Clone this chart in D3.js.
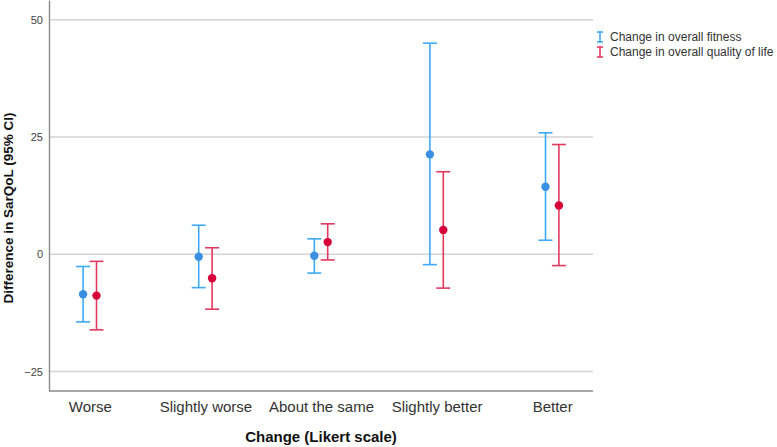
<!DOCTYPE html>
<html><head><meta charset="utf-8">
<script src="https://cdn.jsdelivr.net/npm/d3@7"></script>
<style>body{margin:0;background:#fff;} svg{display:block;font-family:"Liberation Sans",Arial,sans-serif;}</style>
</head><body><svg id="c" width="777" height="447"></svg>
<script>
const categories = ["Worse","Slightly worse","About the same","Slightly better","Better"];
const seriesNames = ["Change in overall fitness","Change in overall quality of life"];
const fitnessMean = [-8.5, -0.5, -0.3, 21.3, 14.4];
const fitnessLow  = [-14.4, -7.1, -4.0, -2.2, 3.0];
const fitnessHigh = [-2.6, 6.2, 3.3, 45.0, 25.9];
const qolMean = [-8.8, -5.1, 2.6, 5.2, 10.4];
const qolLow  = [-16.1, -11.7, -1.2, -7.2, -2.4];
const qolHigh = [-1.5, 1.4, 6.5, 17.6, 23.4];
const yTicks = [-25, 0, 25, 50];

const svg = d3.select("#c");
const L = 49, R = 593, T = 0, B = 391;
const x = d3.scalePoint().domain(categories).range([L, R]).padding(0.353);
const y = d3.scaleLinear().domain([-29.13, 54.2]).range([B, T]);

const lineCol = ["#3fa9f5", "#e2395e"];
const ptCol = ["#3a8fe0", "#d6003a"];
const offsets = [-6.7, 6.7];

// gridlines
svg.append("g").selectAll("line").data(yTicks).join("line")
  .attr("x1", L).attr("x2", R).attr("y1", d => y(d)).attr("y2", d => y(d))
  .attr("stroke", "#d4d4d4").attr("stroke-width", 1.5);

// y axis
const ya = svg.append("g").attr("transform", `translate(${L},0)`)
  .call(d3.axisLeft(y).tickValues(yTicks).tickSize(0).tickPadding(6));
ya.select(".domain").attr("stroke", "#8a8a8a").attr("stroke-width", 1.4);
ya.selectAll("text").attr("font-size", 11).attr("fill", "#444").attr("font-family", "Liberation Sans, Arial, sans-serif");

// x axis
const xa = svg.append("g").attr("transform", `translate(0,${B})`)
  .call(d3.axisBottom(x).tickSize(0).tickPadding(10));
xa.select(".domain").attr("stroke", "#8a8a8a").attr("stroke-width", 1.4).attr("d", `M${L},0H${R}`);
xa.selectAll("text").attr("font-size", 15).attr("fill", "#333").attr("font-family", "Liberation Sans, Arial, sans-serif");

// titles
svg.append("text").attr("x", (L + R) / 2).attr("y", 442).attr("text-anchor", "middle")
  .attr("font-size", 15).attr("font-weight", "bold").attr("fill", "#111").text("Change (Likert scale)");
svg.append("text").attr("transform", "translate(13,208) rotate(-90)").attr("text-anchor", "middle")
  .attr("font-size", 13.5).attr("font-weight", "bold").attr("fill", "#111").text("Difference in SarQoL (95% CI)");

const series = [
  {mean: fitnessMean, low: fitnessLow, high: fitnessHigh},
  {mean: qolMean, low: qolLow, high: qolHigh}
];
const capW = 7;
series.forEach((s, si) => {
  const g = svg.append("g");
  categories.forEach((c, i) => {
    const cx = x(c) + offsets[si];
    g.append("line").attr("x1", cx).attr("x2", cx).attr("y1", y(s.low[i])).attr("y2", y(s.high[i]))
      .attr("stroke", lineCol[si]).attr("stroke-width", 1.6);
    [s.low[i], s.high[i]].forEach(v => {
      g.append("line").attr("x1", cx - capW).attr("x2", cx + capW).attr("y1", y(v)).attr("y2", y(v))
        .attr("stroke", lineCol[si]).attr("stroke-width", 1.6);
    });
    g.append("circle").attr("cx", cx).attr("cy", y(s.mean[i])).attr("r", 4.2).attr("fill", ptCol[si]);
  });
});

// legend
const lg = svg.append("g").attr("transform", "translate(600,37)");
seriesNames.forEach((n, i) => {
  const gy = i * 15;
  const g = lg.append("g").attr("transform", `translate(0,${gy})`);
  g.append("line").attr("x1", 0).attr("x2", 0).attr("y1", -5).attr("y2", 5).attr("stroke", lineCol[i]).attr("stroke-width", 1.6);
  g.append("line").attr("x1", -3).attr("x2", 3).attr("y1", -5).attr("y2", -5).attr("stroke", lineCol[i]).attr("stroke-width", 1.6);
  g.append("line").attr("x1", -3).attr("x2", 3).attr("y1", 5).attr("y2", 5).attr("stroke", lineCol[i]).attr("stroke-width", 1.6);
  g.append("text").attr("x", 10).attr("y", 4).attr("font-size", 12).attr("fill", "#333").text(n);
});
</script></body></html>
